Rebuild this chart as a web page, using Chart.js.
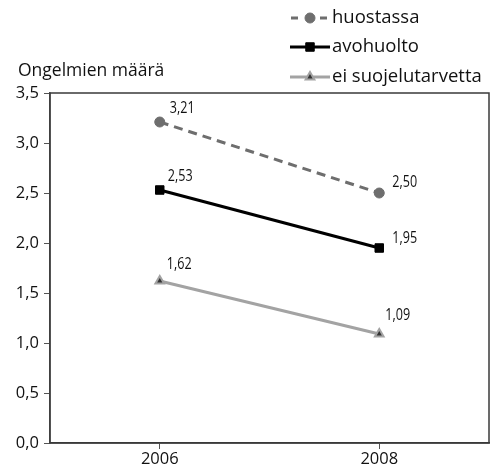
<!DOCTYPE html>
<html lang="fi">
<head>
    <meta charset="UTF-8">
    <title>Ongelmien määrä</title>
    <script src="https://cdn.jsdelivr.net/npm/chart.js"></script>
    <style>
        html, body { margin: 0; padding: 0; background: #fff; }
        #wrap { width: 496px; height: 471px; }
    </style>
</head>
<body>
    <div id="wrap"><canvas id="myChart"></canvas></div>

    <script>
        const years = [2006, 2008];
        const huostassa = [3.21, 2.50];
        const avohuolto = [2.53, 1.95];
        const eiSuojelutarvetta = [1.62, 1.09];
        const seriesNames = ['huostassa', 'avohuolto', 'ei suojelutarvetta'];
        const yTicks = [0, 0.5, 1, 1.5, 2, 2.5, 3, 3.5];

        const FONT = '"Open Sans", "Noto Sans", sans-serif';
        const fmt = v => v.toFixed(2).replace('.', ',');
        const toPoints = vals => vals.map((v, i) => ({x: years[i], y: v}));

        // label offsets [dx, dy] per dataset, per point
        const labelOffsets = [
            [[10, -7], [13, -4]],
            [[8, -7], [13, -3]],
            [[7, -10], [6, -12]]
        ];

        const extrasPlugin = {
            id: 'extras',
            afterDatasetsDraw(chart) {
                const {ctx, chartArea} = chart;
                ctx.save();

                // box around plot
                ctx.strokeStyle = '#3a3a3a';
                ctx.lineWidth = 1.5;
                ctx.strokeRect(chartArea.left, chartArea.top, chartArea.right - chartArea.left, chartArea.bottom - chartArea.top);

                // value labels (narrow, like the original)
                ctx.font = '17px ' + FONT;
                ctx.fillStyle = '#111';
                ctx.textAlign = 'left';
                ctx.textBaseline = 'bottom';
                chart.data.datasets.forEach((ds, di) => {
                    chart.getDatasetMeta(di).data.forEach((pt, i) => {
                        const [dx, dy] = labelOffsets[di][i];
                        ctx.save();
                        ctx.translate(pt.x + dx, pt.y + dy + 2);
                        ctx.scale(0.74, 1);
                        ctx.fillText(fmt(ds.data[i].y), 0, 0);
                        ctx.restore();
                    });
                });

                // y axis title
                ctx.font = '17.5px ' + FONT;
                ctx.textBaseline = 'middle';
                ctx.fillText('Ongelmien määrä', 18, 71);

                // legend
                const rows = [18, 47, 77];
                chart.data.datasets.forEach((ds, di) => {
                    const y = rows[di];
                    ctx.strokeStyle = ds.borderColor;
                    ctx.lineWidth = 3;
                    ctx.beginPath();
                    if (di === 0) {
                        ctx.moveTo(291, y); ctx.lineTo(298, y);
                        ctx.moveTo(320, y); ctx.lineTo(327, y);
                    } else {
                        ctx.moveTo(290, y); ctx.lineTo(330, y);
                    }
                    ctx.stroke();
                    ctx.fillStyle = ds.pointBackgroundColor;
                    ctx.strokeStyle = ds.pointBorderColor;
                    ctx.lineWidth = ds.pointBorderWidth;
                    Chart.helpers.drawPoint(ctx, {
                        pointStyle: ds.pointStyle,
                        radius: ds.pointRadius,
                        borderWidth: ds.pointBorderWidth
                    }, 310, y);
                    ctx.fillStyle = '#111';
                    ctx.font = '18.5px ' + FONT;
                    ctx.fillText(seriesNames[di], 332, y);
                });

                ctx.restore();
            }
        };

        const config = {
            type: 'line',
            data: {
                datasets: [
                    {
                        label: seriesNames[0],
                        data: toPoints(huostassa),
                        borderColor: '#6e6e6e',
                        borderWidth: 3,
                        borderDash: [9, 6],
                        pointStyle: 'circle',
                        pointRadius: 5,
                        pointBackgroundColor: '#6e6e6e',
                        pointBorderColor: '#6e6e6e',
                        pointBorderWidth: 1
                    },
                    {
                        label: seriesNames[1],
                        data: toPoints(avohuolto),
                        borderColor: '#000',
                        borderWidth: 3,
                        pointStyle: 'rect',
                        pointRadius: 6,
                        pointBackgroundColor: '#000',
                        pointBorderColor: '#000',
                        pointBorderWidth: 1
                    },
                    {
                        label: seriesNames[2],
                        data: toPoints(eiSuojelutarvetta),
                        borderColor: '#a3a3a3',
                        borderWidth: 3,
                        pointStyle: 'triangle',
                        pointRadius: 5,
                        pointBackgroundColor: '#333',
                        pointBorderColor: '#a3a3a3',
                        pointBorderWidth: 2
                    }
                ]
            },
            options: {
                responsive: true,
                maintainAspectRatio: false,
                animation: false,
                layout: { padding: { top: 93, right: 6, left: 0, bottom: 0 } },
                plugins: {
                    legend: { display: false },
                    tooltip: { enabled: false }
                },
                scales: {
                    x: {
                        type: 'linear',
                        min: 2005,
                        max: 2009,
                        afterBuildTicks: axis => { axis.ticks = years.map(v => ({value: v})); },
                        afterFit: axis => { axis.height = 28; },
                        grid: { drawOnChartArea: false, drawTicks: true, tickLength: 6, color: '#555' },
                        border: { display: true, color: '#3a3a3a', width: 1.5 },
                        ticks: {
                            color: '#111',
                            padding: 0,
                            font: { family: FONT, size: 16.5 },
                            callback: v => String(v)
                        }
                    },
                    y: {
                        min: 0,
                        max: 3.5,
                        afterBuildTicks: axis => { axis.ticks = yTicks.map(v => ({value: v})); },
                        afterFit: axis => { axis.width = 50; },
                        grid: { drawOnChartArea: false, drawTicks: true, tickLength: 6, color: '#555' },
                        border: { display: true, color: '#555', width: 1.5 },
                        ticks: {
                            color: '#111',
                            padding: 5,
                            font: { family: FONT, size: 16.5 },
                            callback: v => v.toFixed(1).replace('.', ',')
                        }
                    }
                }
            },
            plugins: [extrasPlugin]
        };

        new Chart(document.getElementById('myChart').getContext('2d'), config);
    </script>
</body>
</html>
